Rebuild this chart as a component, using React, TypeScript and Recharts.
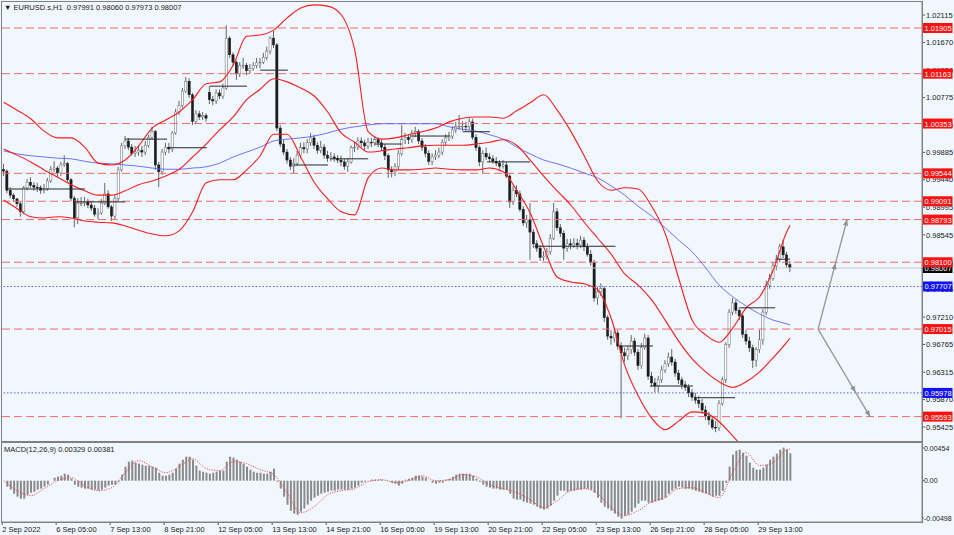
import React from 'react';
import { ComposedChart, Bar, Line, XAxis, YAxis, ReferenceLine } from 'recharts';

const FONT = '"Liberation Sans", Arial, sans-serif';

// ---- time axis ----
const timeTickIdx = [0, 16, 32, 48, 64, 80, 96, 112, 128, 144, 160, 176, 192, 208, 224];
const timeLabels = ['2 Sep 2022', '6 Sep 05:00', '7 Sep 13:00', '8 Sep 21:00', '12 Sep 05:00', '13 Sep 13:00', '14 Sep 21:00', '16 Sep 05:00', '19 Sep 13:00', '20 Sep 21:00', '22 Sep 05:00', '23 Sep 13:00', '26 Sep 21:00', '28 Sep 05:00', '29 Sep 13:00'];

// ---- price axis ----
const priceTicks = [1.02115, 1.0167, 1.0122, 1.00775, 1.0033, 0.99885, 0.9944, 0.98995, 0.98545, 0.981, 0.97655, 0.9721, 0.96765, 0.96315, 0.9587, 0.95425];
const macdTicks = [0.00454, 0, -0.00498];

// ---- candles (EURUSD, 2-hour steps) ----
const opens = [
  0.9961, 0.9958, 0.9927, 0.9919, 0.9913, 0.9905, 0.9892, 0.9931, 0.9940, 0.9935,
  0.9932, 0.9931, 0.9927, 0.9929, 0.9942, 0.9961, 0.9963, 0.9955, 0.9968, 0.9970,
  0.9944, 0.9914, 0.9882, 0.9906, 0.9906, 0.9908, 0.9903, 0.9898, 0.9888, 0.9890,
  0.9906, 0.9921, 0.9900, 0.9885, 0.9913, 0.9960, 0.9999, 1.0007, 0.9997, 0.9987,
  0.9989, 0.9992, 0.9989, 1.0000, 1.0013, 1.0022, 0.9968, 0.9957, 0.9989, 0.9997,
  0.9994, 1.0020, 1.0054, 1.0065, 1.0088, 1.0104, 1.0082, 1.0039, 1.0051, 1.0046,
  1.0048, 1.0086, 1.0074, 1.0072, 1.0085, 1.0080, 1.0093, 1.0174, 1.0147, 1.0135,
  1.0116, 1.0130, 1.0130, 1.0121, 1.0125, 1.0130, 1.0134, 1.0135, 1.0143, 1.0153,
  1.0174, 1.0163, 1.0028, 1.0002, 0.9989, 0.9976, 0.9966, 0.9971, 0.9984, 0.9996,
  0.9994, 1.0004, 1.0012, 1.0000, 0.9992, 0.9997, 0.9984, 0.9979, 0.9981, 0.9979,
  0.9976, 0.9973, 0.9966, 0.9973, 0.9996, 0.9997, 1.0007, 1.0004, 0.9999, 1.0005,
  1.0004, 1.0009, 1.0004, 0.9997, 0.9983, 0.9960, 0.9957, 0.9965, 0.9987, 1.0009,
  1.0013, 1.0009, 1.0020, 1.0022, 1.0007, 0.9997, 0.9987, 0.9974, 0.9981, 0.9984,
  0.9989, 1.0005, 1.0012, 1.0015, 1.0025, 1.0031, 1.0031, 1.0031, 1.0030, 1.0038,
  1.0013, 0.9996, 0.9973, 0.9987, 0.9981, 0.9978, 0.9974, 0.9971, 0.9966, 0.9968,
  0.9950, 0.9908, 0.9927, 0.9921, 0.9896, 0.9874, 0.9879, 0.9859, 0.9840, 0.9833,
  0.9818, 0.9820, 0.9827, 0.9849, 0.9892, 0.9866, 0.9857, 0.9833, 0.9840, 0.9838,
  0.9841, 0.9838, 0.9846, 0.9835, 0.9823, 0.9810, 0.9752, 0.9762, 0.9767, 0.9720,
  0.9690, 0.9687, 0.9695, 0.9674, 0.9663, 0.9658, 0.9668, 0.9682, 0.9664, 0.9642,
  0.9672, 0.9687, 0.9625, 0.9614, 0.9609, 0.9619, 0.9635, 0.9645, 0.9656, 0.9648,
  0.9630, 0.9619, 0.9611, 0.9607, 0.9598, 0.9591, 0.9586, 0.9581, 0.9570, 0.9560,
  0.9554, 0.9542, 0.9541, 0.9581, 0.9619, 0.9676, 0.9729, 0.9744, 0.9732, 0.9723,
  0.9693, 0.9682, 0.9671, 0.9651, 0.9668, 0.9684, 0.9729, 0.9773, 0.9784, 0.9804,
  0.9815, 0.9835, 0.9822, 0.9806,
];
const highs = [
  0.9970, 0.9961, 0.9932, 0.9922, 0.9914, 0.9908, 0.9934, 0.9945, 0.9948, 0.9940,
  0.9939, 0.9935, 0.9937, 0.9947, 0.9966, 0.9974, 0.9966, 0.9973, 0.9984, 0.9973,
  0.9947, 0.9918, 0.9914, 0.9916, 0.9916, 0.9913, 0.9908, 0.9903, 0.9898, 0.9913,
  0.9939, 0.9927, 0.9903, 0.9919, 0.9965, 1.0004, 1.0015, 1.0012, 1.0002, 0.9999,
  1.0000, 0.9999, 1.0007, 1.0017, 1.0030, 1.0025, 0.9973, 0.9994, 1.0004, 1.0004,
  1.0023, 1.0059, 1.0072, 1.0093, 1.0111, 1.0109, 1.0085, 1.0057, 1.0056, 1.0054,
  1.0052, 1.0096, 1.0080, 1.0091, 1.0091, 1.0100, 1.0195, 1.0177, 1.0151, 1.0138,
  1.0135, 1.0142, 1.0134, 1.0132, 1.0135, 1.0142, 1.0142, 1.0150, 1.0160, 1.0177,
  1.0186, 1.0166, 1.0033, 1.0009, 0.9994, 0.9981, 0.9979, 0.9991, 1.0004, 1.0005,
  1.0010, 1.0020, 1.0017, 1.0005, 1.0007, 1.0002, 0.9991, 0.9989, 0.9987, 0.9984,
  0.9983, 0.9978, 0.9979, 1.0000, 1.0005, 1.0013, 1.0013, 1.0009, 1.0012, 1.0012,
  1.0015, 1.0013, 1.0009, 1.0002, 0.9987, 0.9966, 0.9971, 0.9992, 1.0033, 1.0020,
  1.0018, 1.0025, 1.0030, 1.0026, 1.0012, 1.0002, 0.9992, 0.9987, 0.9992, 0.9996,
  1.0010, 1.0018, 1.0022, 1.0031, 1.0038, 1.0049, 1.0039, 1.0038, 1.0044, 1.0043,
  1.0018, 1.0000, 0.9992, 0.9996, 0.9987, 0.9984, 0.9981, 0.9976, 0.9976, 0.9973,
  0.9953, 0.9934, 0.9935, 0.9926, 0.9901, 0.9887, 0.9906, 0.9864, 0.9846, 0.9838,
  0.9828, 0.9833, 0.9856, 0.9906, 0.9898, 0.9872, 0.9862, 0.9848, 0.9848, 0.9849,
  0.9848, 0.9853, 0.9851, 0.9841, 0.9830, 0.9814, 0.9770, 0.9776, 0.9771, 0.9724,
  0.9700, 0.9703, 0.9700, 0.9680, 0.9671, 0.9674, 0.9692, 0.9687, 0.9669, 0.9679,
  0.9694, 0.9692, 0.9632, 0.9622, 0.9625, 0.9642, 0.9651, 0.9663, 0.9669, 0.9653,
  0.9635, 0.9624, 0.9617, 0.9612, 0.9604, 0.9598, 0.9593, 0.9588, 0.9577, 0.9567,
  0.9560, 0.9552, 0.9586, 0.9624, 0.9680, 0.9734, 0.9752, 0.9749, 0.9737, 0.9728,
  0.9700, 0.9689, 0.9676, 0.9672, 0.9700, 0.9734, 0.9780, 0.9791, 0.9810, 0.9822,
  0.9840, 0.9846, 0.9827, 0.9812,
];
const lows = [
  0.9950, 0.9922, 0.9914, 0.9908, 0.9900, 0.9884, 0.9888, 0.9927, 0.9931, 0.9926,
  0.9924, 0.9921, 0.9922, 0.9926, 0.9939, 0.9957, 0.9948, 0.9950, 0.9965, 0.9939,
  0.9909, 0.9867, 0.9872, 0.9901, 0.9901, 0.9898, 0.9893, 0.9884, 0.9880, 0.9887,
  0.9903, 0.9897, 0.9877, 0.9880, 0.9909, 0.9957, 0.9994, 0.9992, 0.9983, 0.9981,
  0.9983, 0.9981, 0.9984, 0.9996, 1.0009, 0.9960, 0.9932, 0.9952, 0.9984, 0.9987,
  0.9989, 1.0017, 1.0049, 1.0061, 1.0085, 1.0077, 1.0033, 1.0035, 1.0041, 1.0041,
  1.0038, 1.0067, 1.0065, 1.0067, 1.0075, 1.0075, 1.0090, 1.0142, 1.0129, 1.0106,
  1.0111, 1.0124, 1.0114, 1.0116, 1.0121, 1.0125, 1.0125, 1.0132, 1.0138, 1.0148,
  1.0158, 1.0023, 0.9997, 0.9984, 0.9970, 0.9960, 0.9955, 0.9966, 0.9979, 0.9987,
  0.9987, 0.9999, 0.9994, 0.9986, 0.9987, 0.9978, 0.9973, 0.9974, 0.9973, 0.9971,
  0.9966, 0.9960, 0.9957, 0.9970, 0.9989, 0.9992, 0.9997, 0.9992, 0.9994, 0.9997,
  0.9999, 0.9997, 0.9991, 0.9976, 0.9947, 0.9948, 0.9950, 0.9960, 0.9983, 1.0002,
  1.0002, 1.0004, 1.0013, 1.0002, 0.9991, 0.9981, 0.9968, 0.9968, 0.9976, 0.9979,
  0.9984, 0.9999, 1.0007, 1.0010, 1.0020, 1.0025, 1.0023, 1.0023, 1.0025, 1.0009,
  0.9991, 0.9966, 0.9955, 0.9976, 0.9973, 0.9970, 0.9966, 0.9962, 0.9962, 0.9947,
  0.9898, 0.9903, 0.9916, 0.9892, 0.9869, 0.9866, 0.9814, 0.9833, 0.9827, 0.9812,
  0.9812, 0.9815, 0.9822, 0.9846, 0.9861, 0.9851, 0.9814, 0.9827, 0.9831, 0.9833,
  0.9831, 0.9833, 0.9828, 0.9819, 0.9804, 0.9746, 0.9741, 0.9755, 0.9713, 0.9684,
  0.9676, 0.9680, 0.9668, 0.9557, 0.9648, 0.9651, 0.9661, 0.9658, 0.9635, 0.9637,
  0.9668, 0.9619, 0.9608, 0.9599, 0.9599, 0.9614, 0.9630, 0.9640, 0.9642, 0.9624,
  0.9612, 0.9604, 0.9601, 0.9591, 0.9585, 0.9580, 0.9573, 0.9564, 0.9554, 0.9546,
  0.9538, 0.9534, 0.9536, 0.9577, 0.9614, 0.9671, 0.9724, 0.9726, 0.9716, 0.9687,
  0.9676, 0.9664, 0.9638, 0.9640, 0.9663, 0.9676, 0.9724, 0.9767, 0.9780, 0.9797,
  0.9810, 0.9817, 0.9801, 0.9794,
];
const closes = [
  0.9958, 0.9927, 0.9919, 0.9913, 0.9905, 0.9892, 0.9931, 0.9940, 0.9935, 0.9932,
  0.9931, 0.9927, 0.9929, 0.9942, 0.9961, 0.9963, 0.9955, 0.9968, 0.9970, 0.9944,
  0.9914, 0.9882, 0.9906, 0.9906, 0.9908, 0.9903, 0.9898, 0.9888, 0.9890, 0.9906,
  0.9921, 0.9900, 0.9885, 0.9913, 0.9960, 0.9999, 1.0007, 0.9997, 0.9987, 0.9989,
  0.9992, 0.9989, 1.0000, 1.0013, 1.0022, 0.9968, 0.9957, 0.9989, 0.9997, 0.9994,
  1.0020, 1.0054, 1.0065, 1.0088, 1.0104, 1.0082, 1.0039, 1.0051, 1.0046, 1.0048,
  1.0044, 1.0074, 1.0072, 1.0085, 1.0080, 1.0093, 1.0174, 1.0147, 1.0135, 1.0116,
  1.0130, 1.0130, 1.0121, 1.0125, 1.0130, 1.0134, 1.0135, 1.0143, 1.0153, 1.0174,
  1.0163, 1.0028, 1.0002, 0.9989, 0.9976, 0.9966, 0.9971, 0.9984, 0.9996, 0.9994,
  1.0004, 1.0012, 1.0000, 0.9992, 0.9997, 0.9984, 0.9979, 0.9981, 0.9979, 0.9976,
  0.9973, 0.9966, 0.9973, 0.9996, 0.9997, 1.0007, 1.0004, 0.9999, 1.0005, 1.0004,
  1.0009, 1.0004, 0.9997, 0.9983, 0.9960, 0.9957, 0.9965, 0.9987, 1.0009, 1.0013,
  1.0009, 1.0020, 1.0022, 1.0007, 0.9997, 0.9987, 0.9974, 0.9981, 0.9984, 0.9989,
  1.0005, 1.0012, 1.0015, 1.0025, 1.0031, 1.0031, 1.0031, 1.0030, 1.0038, 1.0013,
  0.9996, 0.9973, 0.9987, 0.9981, 0.9978, 0.9974, 0.9971, 0.9966, 0.9968, 0.9950,
  0.9908, 0.9927, 0.9921, 0.9896, 0.9874, 0.9879, 0.9859, 0.9840, 0.9833, 0.9818,
  0.9820, 0.9827, 0.9849, 0.9892, 0.9866, 0.9857, 0.9833, 0.9840, 0.9838, 0.9841,
  0.9838, 0.9846, 0.9835, 0.9823, 0.9810, 0.9752, 0.9762, 0.9767, 0.9720, 0.9690,
  0.9687, 0.9695, 0.9674, 0.9663, 0.9658, 0.9668, 0.9682, 0.9664, 0.9642, 0.9672,
  0.9687, 0.9625, 0.9614, 0.9609, 0.9619, 0.9635, 0.9645, 0.9656, 0.9648, 0.9630,
  0.9619, 0.9611, 0.9607, 0.9598, 0.9591, 0.9586, 0.9581, 0.9570, 0.9560, 0.9554,
  0.9542, 0.9541, 0.9581, 0.9619, 0.9676, 0.9729, 0.9744, 0.9732, 0.9723, 0.9693,
  0.9682, 0.9671, 0.9651, 0.9668, 0.9684, 0.9729, 0.9773, 0.9784, 0.9804, 0.9815,
  0.9835, 0.9822, 0.9806, 0.9801,
];

// ---- MACD histogram (per candle) ----
const macdHist = [
  0, -0.00072, -0.00108, -0.00157, -0.00193, -0.00217, -0.00217, -0.00169, -0.00145, -0.00133,
  -0.00108, -0.00096, -0.00072, -0.00048, 0, 0.00036, 0.00048, 0.0006, 0.00084, 0.00072,
  0.00024, -0.00048, -0.00072, -0.00084, -0.00096, -0.00096, -0.00108, -0.00108, -0.00121, -0.00108,
  -0.00084, -0.0006, -0.00048, -0.00048, -0.00012, 0.00072, 0.00169, 0.00229, 0.00241, 0.00217,
  0.00205, 0.00193, 0.00181, 0.00181, 0.00169, 0.00157, 0.00096, 0.0006, 0.0006, 0.00072,
  0.00096, 0.00145, 0.00205, 0.00253, 0.00289, 0.00289, 0.00253, 0.00181, 0.00121, 0.00108,
  0.00096, 0.00084, 0.00096, 0.00108, 0.00121, 0.00121, 0.00229, 0.00289, 0.00277, 0.00253,
  0.00229, 0.00205, 0.00169, 0.00133, 0.00108, 0.00096, 0.00096, 0.00084, 0.00084, 0.00108,
  0.00145, -0.00012, -0.00096, -0.00193, -0.00289, -0.00362, -0.00398, -0.0041, -0.00374, -0.00337,
  -0.00289, -0.00241, -0.00205, -0.00181, -0.00157, -0.00145, -0.00133, -0.00121, -0.00121, -0.00108,
  -0.00108, -0.00108, -0.00108, -0.00096, -0.00084, -0.0006, -0.00024, -0.00012, 0.00002, 0.00012,
  0.00012, 0.00012, 0.00012, 0.00003, -0.00003, -0.00024, -0.00036, -0.0006, -0.00036, 0.00012,
  0.00024, 0.00036, 0.0006, 0.0006, 0.00048, 0.00036, 0.00002, -0.00024, -0.00036, -0.00024,
  -0.00024, 0.00012, 0.00024, 0.00048, 0.00072, 0.00084, 0.00084, 0.00084, 0.00084, 0.0006,
  0.00024, -0.00012, -0.00048, -0.00072, -0.00084, -0.00096, -0.00096, -0.00108, -0.00108, -0.00108,
  -0.00157, -0.00217, -0.00229, -0.00229, -0.00253, -0.00265, -0.00277, -0.00289, -0.00313, -0.00337,
  -0.00349, -0.00337, -0.00301, -0.00241, -0.00181, -0.00121, -0.00121, -0.00133, -0.00121, -0.00121,
  -0.00108, -0.00108, -0.00096, -0.00096, -0.00108, -0.00145, -0.00205, -0.00265, -0.00313, -0.00337,
  -0.00362, -0.00398, -0.00434, -0.00458, -0.00422, -0.0041, -0.00374, -0.00325, -0.00277, -0.00241,
  -0.00241, -0.00265, -0.00265, -0.00253, -0.00241, -0.00229, -0.00205, -0.00157, -0.00121, -0.00096,
  -0.00072, -0.00084, -0.00096, -0.00096, -0.00108, -0.00121, -0.00133, -0.00145, -0.00157, -0.00169,
  -0.00193, -0.00181, -0.00181, -0.00121, -0.00024, 0.00169, 0.00313, 0.00362, 0.00374, 0.00337,
  0.00301, 0.00217, 0.00157, 0.00133, 0.00133, 0.00157, 0.00193, 0.00253, 0.00289, 0.00325,
  0.00374, 0.00398, 0.00374, 0.00329,
];

// ---- indicator lines, read every 4th candle (plus the last one) ----
const bandIdx = [0, 4, 8, 12, 16, 20, 24, 28, 32, 36, 40, 44, 48, 52, 56, 60, 64, 68, 72, 76, 80, 84, 88, 92, 96, 100, 104, 108, 112, 116, 120, 124, 128, 132, 136, 140, 144, 148, 152, 156, 160, 164, 168, 172, 176, 180, 184, 188, 192, 196, 200, 204, 208, 212, 216, 220, 224, 228, 232, 233];
const bbUpper = [
  1.0070, 1.0057, 1.0043, 1.0023, 1.0012, 1.0012, 0.9997, 0.9971, 0.9968, 0.9976,
  0.9999, 1.0028, 1.0041, 1.0054, 1.0074, 1.0100, 1.0103, 1.0130, 1.0177, 1.0179,
  1.0187, 1.0207, 1.0223, 1.0228, 1.0226, 1.0212, 1.0155, 1.0022, 1.0010, 1.0012,
  1.0017, 1.0022, 1.0028, 1.0038, 1.0044, 1.0046, 1.0046, 1.0044, 1.0056, 1.0069,
  1.0082, 1.0057, 1.0023, 0.9983, 0.9942, 0.9927, 0.9931, 0.9929, 0.9901, 0.9857,
  0.9784, 0.9716, 0.9692, 0.9680, 0.9703, 0.9736, 0.9754, 0.9797, 0.9859, 0.9870,
];
const bbMiddle = [
  0.9994, 0.9984, 0.9973, 0.9960, 0.9948, 0.9936, 0.9926, 0.9919, 0.9919, 0.9926,
  0.9936, 0.9942, 0.9950, 0.9961, 0.9981, 1.0002, 1.0025, 1.0046, 1.0074, 1.0091,
  1.0108, 1.0103, 1.0093, 1.0080, 1.0054, 1.0020, 1.0005, 0.9989, 0.9991, 0.9994,
  0.9996, 0.9999, 1.0000, 1.0000, 1.0000, 1.0002, 1.0005, 1.0009, 1.0000, 0.9976,
  0.9950, 0.9926, 0.9903, 0.9875, 0.9849, 0.9823, 0.9791, 0.9773, 0.9749, 0.9716,
  0.9682, 0.9653, 0.9632, 0.9616, 0.9607, 0.9616, 0.9632, 0.9655, 0.9680, 0.9687,
];
const bbLower = [
  0.9911, 0.9897, 0.9884, 0.9882, 0.9884, 0.9882, 0.9877, 0.9875, 0.9874, 0.9869,
  0.9862, 0.9856, 0.9853, 0.9861, 0.9892, 0.9939, 0.9944, 0.9944, 0.9960, 0.9983,
  1.0018, 1.0018, 0.9981, 0.9940, 0.9913, 0.9892, 0.9887, 0.9947, 0.9963, 0.9960,
  0.9960, 0.9961, 0.9963, 0.9961, 0.9960, 0.9960, 0.9963, 0.9957, 0.9927, 0.9890,
  0.9835, 0.9786, 0.9778, 0.9775, 0.9765, 0.9719, 0.9643, 0.9593, 0.9557, 0.9538,
  0.9552, 0.9567, 0.9565, 0.9551, 0.9528, 0.9505, 0.9491, 0.9482, 0.9474, 0.9473,
];
const ma200 = [
  0.9991, 0.9986, 0.9983, 0.9981, 0.9979, 0.9978, 0.9974, 0.9971, 0.9970, 0.9968,
  0.9966, 0.9963, 0.9961, 0.9961, 0.9963, 0.9965, 0.9971, 0.9981, 0.9989, 0.9997,
  1.0007, 1.0010, 1.0012, 1.0015, 1.0020, 1.0026, 1.0030, 1.0033, 1.0035, 1.0035,
  1.0035, 1.0035, 1.0035, 1.0030, 1.0026, 1.0023, 1.0017, 1.0010, 0.9997, 0.9986,
  0.9976, 0.9970, 0.9963, 0.9955, 0.9947, 0.9934, 0.9919, 0.9901, 0.9885, 0.9866,
  0.9846, 0.9827, 0.9801, 0.9773, 0.9754, 0.9739, 0.9726, 0.9716, 0.9710, 0.9708,
];
const macdSignal = [
  0, -0.00121, -0.00181, -0.00096, 0, 0.00036, -0.0006, -0.00121, -0.00084, 0.00096,
  0.00241, 0.00169, 0.00096, 0.00169, 0.00265, 0.00145, 0.00121, 0.00229, 0.00205, 0.00133,
  0.00072, -0.00145, -0.00386, -0.00313, -0.00169, -0.00121, -0.00096, -0.00012, 0.00012, -0.00024,
  0, 0.0006, 0, 0.00012, 0.00072, 0.00048, -0.00048, -0.00096, -0.00145, -0.00229,
  -0.00325, -0.00241, -0.00121, -0.00096, -0.00157, -0.00325, -0.00422, -0.00362, -0.00253, -0.00205,
  -0.00096, -0.00084, -0.00145, -0.00205, 0.00096, 0.00337, 0.00181, 0.00217, 0.00374, 0.00381,
];

// ---- horizontal levels ----
const redLevels = [1.01905, 1.01163, 1.00353, 0.99544, 0.99091, 0.98793, 0.981, 0.97015, 0.95593];
const blueLevels = [0.97707, 0.95978];
const lastPrice = 0.98007;

// daily open segments (candle index range, price)
const sessionLines = [
  { from: 1.0, to: 24.1, price: 0.9929 },
  { from: 20.5, to: 36.0, price: 0.9908 },
  { from: 36.0, to: 48.4, price: 1.001 },
  { from: 48.4, to: 60.2, price: 0.9996 },
  { from: 61.1, to: 72.1, price: 1.0096 },
  { from: 76.0, to: 84.2, price: 1.0122 },
  { from: 85.7, to: 96.1, price: 0.9968 },
  { from: 96.7, to: 108.0, price: 0.9978 },
  { from: 110.0, to: 118.0, price: 1.0002 },
  { from: 120.4, to: 132.2, price: 1.0015 },
  { from: 136.1, to: 144.1, price: 1.0022 },
  { from: 143.2, to: 156.0, price: 0.9973 },
  { from: 157.3, to: 181.3, price: 0.9836 },
  { from: 182.2, to: 192.4, price: 0.9674 },
  { from: 191.5, to: 204.2, price: 0.9609 },
  { from: 205.4, to: 216.7, price: 0.959 },
  { from: 218.2, to: 228.6, price: 0.9736 },
  { from: 229.1, to: 233.0, price: 0.9815 },
];

// projection arrows
const projections = [
  { from: 241.3, to: 249.9, start: 0.97015, end: 0.98793, mid: 0.6 },
  { from: 241.3, to: 256.7, start: 0.97015, end: 0.95593, mid: 0.72 },
];

const rows: any[] = opens.map((o, i) => ({ i, o, h: highs[i], l: lows[i], c: closes[i], hist: macdHist[i] }));
bandIdx.forEach((idx, k) => {
  Object.assign(rows[idx], { bbU: bbUpper[k], bbM: bbMiddle[k], bbL: bbLower[k], ma: ma200[k], sig: macdSignal[k] });
});

const X_DOMAIN: [number, number] = [-0.5, 272.1];
const P_DOMAIN: [number, number] = [0.95197, 1.02327];

const Candle = (props: any) => {
  const { x, y, width, height, payload } = props;
  if (!payload || x == null || y == null) return <g />;
  const top = Math.min(y, y + height);
  const hgt = Math.abs(height);
  const { o, h, l, c } = payload;
  const k = h > l ? hgt / (h - l) : 0;
  const py = (v: number) => top + (h - v) * k;
  const cx = x + width / 2;
  const b1 = py(Math.max(o, c));
  const b2 = py(Math.min(o, c));
  const up = c >= o;
  return (
    <g>
      <line x1={cx} x2={cx} y1={top} y2={top + hgt} stroke="#666666" strokeWidth={1} />
      <rect x={cx - 1.1} y={b1} width={2.2} height={Math.max(b2 - b1, 0.8)}
        fill={up ? '#ffffff' : '#1c1c1c'} stroke={up ? '#666666' : '#1c1c1c'} strokeWidth={0.5} />
    </g>
  );
};

const tag = (value: number, bg: string) => (props: any) => {
  const vb = props.viewBox || {};
  const x = (vb.x ?? 0) + (vb.width ?? 0);
  const y = vb.y ?? 0;
  return (
    <g>
      <rect x={x + 0.5} y={y - 5} width={30} height={10} fill={bg} />
      <text x={x + 2.5} y={y + 3} fontSize={7.5} fill="#ffffff" fontFamily={FONT}>{value.toFixed(5)}</text>
    </g>
  );
};

const arrowShape = (mid: number) => (p: any) => {
  const { x1, y1, x2, y2 } = p;
  if ([x1, y1, x2, y2].some((v) => v == null || isNaN(v))) return <g />;
  const ang = Math.atan2(y2 - y1, x2 - x1);
  const head = (hx: number, hy: number) => {
    const s = 6, w = 2.6;
    const bx = hx - s * Math.cos(ang), by = hy - s * Math.sin(ang);
    const nx = -Math.sin(ang) * w, ny = Math.cos(ang) * w;
    return <polygon points={`${hx},${hy} ${bx + nx},${by + ny} ${bx - nx},${by - ny}`} fill="#8f8f8f" />;
  };
  const mx = x1 + (x2 - x1) * mid, my = y1 + (y2 - y1) * mid;
  return (
    <g>
      <line x1={x1} y1={y1} x2={x2} y2={y2} stroke="#9a9a9a" strokeWidth={1.4} />
      {head(mx, my)}
      {head(x2, y2)}
    </g>
  );
};

const TimeTick = (props: any) => {
  const { x, y, payload } = props;
  const k = timeTickIdx.indexOf(payload.value);
  return (
    <g>
      <line x1={x - 1.5} x2={x - 1.5} y1={y - 3} y2={y} stroke="#555" strokeWidth={1} />
      <text x={x - 1.5} y={y + 7} fontSize={7.5} fill="#1a1a1a" fontFamily={FONT} textAnchor="start">{k >= 0 ? timeLabels[k] : ''}</text>
    </g>
  );
};

const MacdTick = (props: any) => {
  const { x, y, payload } = props;
  const v = payload.value;
  const dy = v > 0 ? 5 : v < 0 ? -4 : 0;
  const txt = v === 0 ? '0.00' : v.toFixed(5);
  return (
    <g>
      <line x1={x - 2} x2={x} y1={y + dy} y2={y + dy} stroke="#555" />
      <text x={x} y={y + dy + 2.6} fontSize={7} fill="#1a1a1a" fontFamily={FONT}>{txt}</text>
    </g>
  );
};

export default function App() {
  return (
    <div style={{ position: 'fixed', left: 0, top: 0, width: 954, height: 535, background: '#f0f7fe', overflow: 'hidden', fontFamily: FONT }}>
      <div style={{ position: 'absolute', left: 0, top: 0 }}>
        <ComposedChart width={954} height={442} data={rows} margin={{ top: 2, right: 0, bottom: 1, left: 2 }}>
          <XAxis dataKey="i" type="number" domain={X_DOMAIN} allowDataOverflow hide />
          <YAxis orientation="right" width={32} domain={P_DOMAIN} allowDataOverflow ticks={priceTicks} interval={0}
            tickFormatter={(v: number) => v.toFixed(5)} tick={{ fontSize: 7.5, fill: '#1a1a1a', fontFamily: FONT }}
            tickSize={3} tickMargin={1} axisLine={{ stroke: '#8a8a8a' }} tickLine={{ stroke: '#555' }} />
          {redLevels.map((v) => (
            <ReferenceLine key={'r' + v} y={v} stroke="#f26a6a" strokeDasharray="8 4" strokeWidth={1} />
          ))}
          {blueLevels.map((v) => (
            <ReferenceLine key={'b' + v} y={v} stroke="#5a5aff" strokeDasharray="1.5 2" strokeWidth={1} />
          ))}
          <ReferenceLine y={lastPrice} stroke="#c4c8cc" strokeWidth={1} />
          <Line dataKey="ma" type="monotone" stroke="#5a5aff" strokeOpacity={0.85} strokeWidth={1} dot={false} connectNulls isAnimationActive={false} />
          <Line dataKey="bbU" type="monotone" stroke="#ff1a1a" strokeWidth={1.1} dot={false} connectNulls isAnimationActive={false} />
          <Line dataKey="bbM" type="monotone" stroke="#ff1a1a" strokeWidth={1.1} dot={false} connectNulls isAnimationActive={false} />
          <Line dataKey="bbL" type="monotone" stroke="#ff1a1a" strokeWidth={1.1} dot={false} connectNulls isAnimationActive={false} />
          <Bar dataKey={(d: any) => [d.l, d.h]} barSize={3} shape={Candle} isAnimationActive={false} />
          {sessionLines.map((s, k) => (
            <ReferenceLine key={'s' + k} segment={[{ x: s.from, y: s.price }, { x: s.to, y: s.price }]} stroke="#2a2a2a" strokeWidth={1} />
          ))}
          {projections.map((p, k) => (
            <ReferenceLine key={'p' + k} segment={[{ x: p.from, y: p.start }, { x: p.to, y: p.end }]} stroke="#9a9a9a" strokeWidth={1.4} shape={arrowShape(p.mid)} />
          ))}
        </ComposedChart>
      </div>
      {/* price tags layer, drawn above the axis labels */}
      <div style={{ position: 'absolute', left: 0, top: 0, pointerEvents: 'none' }}>
        <ComposedChart width={954} height={442} data={rows} margin={{ top: 2, right: 0, bottom: 1, left: 2 }}>
          <XAxis dataKey="i" type="number" domain={X_DOMAIN} allowDataOverflow hide />
          <YAxis orientation="right" width={32} domain={P_DOMAIN} allowDataOverflow tick={false} axisLine={false} tickLine={false} />
          <ReferenceLine y={lastPrice} stroke="none" label={tag(lastPrice, '#000000')} />
          {blueLevels.map((v) => (
            <ReferenceLine key={'bt' + v} y={v} stroke="none" label={tag(v, '#1010ff')} />
          ))}
          {redLevels.map((v) => (
            <ReferenceLine key={'rt' + v} y={v} stroke="none" label={tag(v, '#ff1010')} />
          ))}
        </ComposedChart>
      </div>
      <div style={{ position: 'absolute', left: 0, top: 442 }}>
        <ComposedChart width={954} height={93} data={rows} margin={{ top: 1, right: 0, bottom: 0, left: 2 }}>
          <XAxis dataKey="i" type="number" domain={X_DOMAIN} allowDataOverflow ticks={timeTickIdx} interval={0}
            height={13} tick={TimeTick} tickLine={false} tickSize={3} tickMargin={0} axisLine={{ stroke: '#8a8a8a' }} />
          <YAxis orientation="right" width={32} domain={[-0.00498, 0.00454]} allowDataOverflow ticks={macdTicks} interval={0}
            tick={MacdTick} tickLine={false} tickSize={2} tickMargin={0} axisLine={{ stroke: '#8a8a8a' }} />
          <Bar dataKey="hist" fill="#8a8a8a" barSize={2} isAnimationActive={false} />
          <Line dataKey="sig" type="monotone" stroke="#ff3030" strokeWidth={1} strokeDasharray="1 1.5" dot={false} connectNulls isAnimationActive={false} />
        </ComposedChart>
      </div>
      {/* panel frames */}
      <div style={{ position: 'absolute', left: 1, top: 1, width: 922, height: 441, border: '1px solid #808080', boxSizing: 'border-box', pointerEvents: 'none' }} />
      <div style={{ position: 'absolute', left: 1, top: 442, width: 922, height: 81, border: '1px solid #808080', boxSizing: 'border-box', pointerEvents: 'none' }} />
      <div style={{ position: 'absolute', left: 4, top: 3, fontSize: 7.5, color: '#1a1a1a', whiteSpace: 'pre', lineHeight: '9px' }}>
        {'\u25BC EURUSD.s,H1  0.97991 0.98060 0.97973 0.98007'}
      </div>
      <div style={{ position: 'absolute', left: 4, top: 445, fontSize: 7.5, color: '#1a1a1a', whiteSpace: 'pre', lineHeight: '9px' }}>
        {'MACD(12,26,9) 0.00329 0.00381'}
      </div>
    </div>
  );
}
